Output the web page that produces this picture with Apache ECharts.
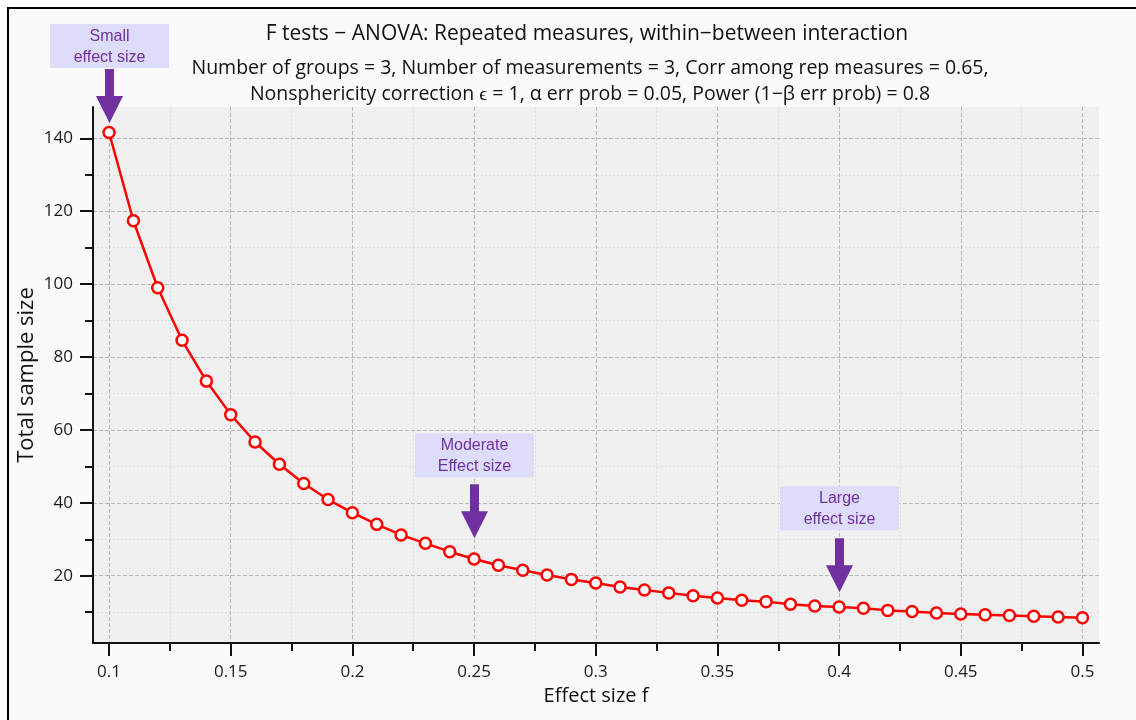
<!DOCTYPE html>
<html>
<head>
<meta charset="utf-8">
<title>F tests - ANOVA: Repeated measures</title>
<script src="https://cdn.jsdelivr.net/npm/echarts@6/dist/echarts.min.js"></script>
<style>
html,body{margin:0;padding:0;background:#fff;}
#main{width:1136px;height:720px;}
</style>
</head>
<body>
<div id="main"></div>
<script>
var effectSize = [0.10,0.11,0.12,0.13,0.14,0.15,0.16,0.17,0.18,0.19,0.20,0.21,0.22,0.23,0.24,0.25,0.26,0.27,0.28,0.29,0.30,
	0.31,0.32,0.33,0.34,0.35,0.36,0.37,0.38,0.39,0.40,0.41,0.42,0.43,0.44,0.45,0.46,0.47,0.48,0.49,0.50];
var sampleSize = [141.6,117.4,99.0,84.6,73.4,64.2,56.7,50.6,45.3,40.9,37.3,34.1,31.2,28.9,26.6,24.6,22.9,21.5,20.2,19.0,18.0,
	16.9,16.1,15.3,14.5,13.9,13.3,12.9,12.2,11.7,11.4,11.1,10.5,10.2,9.8,9.5,9.3,9.1,8.9,8.7,8.5];
var xMajor = [0.1,0.15,0.2,0.25,0.3,0.35,0.4,0.45,0.5];
var xMinor = [0.125,0.175,0.225,0.275,0.325,0.375,0.425,0.475];
var yMajor = [20,40,60,80,100,120,140];
var yMinor = [10,30,50,70,90,110,130];
// annotations: label, x position, y value of arrow tip
var annText = ['Small\neffect size','Moderate\nEffect size','Large\neffect size'];
var annX = [0.1,0.25,0.4];
var annTip = [144.2,30.3,15.5];
var annGap = [1,7,8];

var xRange = [0.0934,0.5068];
var yRange = [1.55,148.6];
var font = 'Open Sans';

var myChart = echarts.init(document.getElementById('main'));
var points = [];
for(var i=0;i<effectSize.length;i++){
	points.push([effectSize[i],sampleSize[i]]);
}
var option = {
	animation:false,
	textStyle:{fontFamily:font},
	title:[{
		text:'F tests − ANOVA: Repeated measures, within−between interaction',
		left:582,
		top:19,
		textAlign:'center',
		textStyle:{fontSize:21,fontWeight:'normal',color:'#111',fontFamily:font}
	},{
		text:'Number of groups = 3, Number of measurements = 3, Corr among rep measures = 0.65,\nNonsphericity correction ϵ = 1, α err prob = 0.05, Power (1−β err prob) = 0.8',
		left:585,
		top:50,
		textAlign:'center',
		textStyle:{fontSize:19.5,fontWeight:'normal',color:'#111',lineHeight:26,fontFamily:font}
	}],
	grid:{
		left:93,top:107,right:37,bottom:77,
		show:true,backgroundColor:'#f0f0f0',borderWidth:0
	},
	xAxis:[{
		type:'value',position:'bottom',min:xRange[0],max:xRange[1],
		name:'Effect size f',nameLocation:'middle',nameGap:43,nameMoveOverlap:false,
		nameTextStyle:{fontSize:20,color:'#111'},
		axisLine:{show:true,lineStyle:{color:'#111',width:2}},
		axisTick:{show:true,length:13,lineStyle:{color:'#111',width:2},customValues:xMajor},
		axisLabel:{fontSize:17,color:'#1a1a1a',margin:21,customValues:xMajor,
			formatter:function(v){return String(+v.toFixed(3));}},
		splitLine:{show:true,lineStyle:{color:'#b9b9b9',type:[4,2],width:1}}
	},{
		type:'value',position:'bottom',min:xRange[0],max:xRange[1],
		axisLine:{show:false},
		axisTick:{show:true,length:8,lineStyle:{color:'#111',width:2},customValues:xMinor},
		axisLabel:{show:false},
		splitLine:{show:true,lineStyle:{color:'#dedede',type:[2,2],width:1}}
	}],
	yAxis:[{
		type:'value',position:'left',min:yRange[0],max:yRange[1],
		name:'Total sample size',nameLocation:'middle',nameGap:55,nameMoveOverlap:false,
		nameTextStyle:{fontSize:22,color:'#111'},
		axisLine:{show:true,lineStyle:{color:'#111',width:2}},
		axisTick:{show:true,length:13,lineStyle:{color:'#111',width:2},customValues:yMajor},
		axisLabel:{fontSize:17,color:'#1a1a1a',margin:20,customValues:yMajor},
		splitLine:{show:true,lineStyle:{color:'#b9b9b9',type:[4,2],width:1}}
	},{
		type:'value',position:'left',min:yRange[0],max:yRange[1],
		axisLine:{show:false},
		axisTick:{show:true,length:8,lineStyle:{color:'#111',width:2},customValues:yMinor},
		axisLabel:{show:false},
		splitLine:{show:true,lineStyle:{color:'#dedede',type:[2,2],width:1}}
	}],
	series:[{
		type:'line',
		xAxisIndex:0,yAxisIndex:0,
		data:points,
		symbol:'circle',
		symbolSize:11,
		lineStyle:{color:'#ff0000',width:2.5},
		itemStyle:{color:'#ffffff',borderColor:'#ff0000',borderWidth:2.5},
		z:5
	}]
};
myChart.setOption(option);

// frame + annotation boxes and arrows
function buildGraphics(){
	var elements = [
		{type:'rect',shape:{x:8,y:8,width:1128,height:712},style:{fill:'#fafafa'},z:-10,silent:true},
		{type:'line',shape:{x1:7,y1:8,x2:1136,y2:8},style:{stroke:'#000',lineWidth:2},z:10},
		{type:'line',shape:{x1:8,y1:7,x2:8,y2:720},style:{stroke:'#000',lineWidth:2},z:10}
	];
	for(var j=0;j<annX.length;j++){
		var p = myChart.convertToPixel({xAxisIndex:0,yAxisIndex:0},[annX[j],annTip[j]]);
		var cx = Math.round(p[0])+0.5, tipY = p[1];
		var arrowTop = tipY-54;
		var boxTop = arrowTop-annGap[j]-44;
		elements.push({
			type:'polygon',z:20,
			shape:{points:[[cx-4.5,arrowTop],[cx+4.5,arrowTop],[cx+4.5,arrowTop+27],[cx+13.5,arrowTop+27],[cx,tipY],[cx-13.5,arrowTop+27],[cx-4.5,arrowTop+27]]},
			style:{fill:'#7030a0'}
		});
		elements.push({
			type:'rect',z:20,
			shape:{x:cx-59.5,y:boxTop,width:119,height:44},
			style:{fill:'#dedcfb'}
		});
		elements.push({
			type:'text',z:21,
			x:cx,y:boxTop+23,
			style:{text:annText[j],fill:'#7030a0',fontSize:16,fontFamily:'Liberation Sans',
				align:'center',verticalAlign:'middle',lineHeight:21}
		});
	}
	return elements;
}
myChart.setOption({graphic:{elements:buildGraphics()}});
</script>
</body>
</html>
